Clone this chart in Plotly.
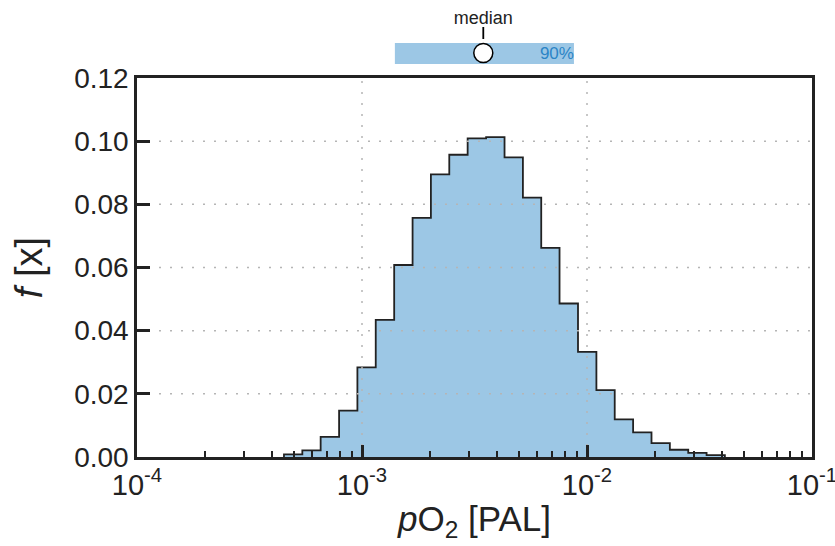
import plotly.graph_objects as go

# ---- data ----
bin_edges = [4.50e-4, 5.43e-4, 6.55e-4, 7.91e-4, 9.54e-4, 1.151e-3, 1.390e-3,
             1.678e-3, 2.024e-3, 2.443e-3, 2.948e-3, 3.562e-3, 4.30e-3,
             5.19e-3, 6.26e-3, 7.55e-3, 9.12e-3, 1.101e-2, 1.328e-2,
             1.603e-2, 1.935e-2, 2.335e-2, 2.818e-2, 3.40e-2, 4.10e-2]
freq = [0.0008, 0.0021, 0.0064, 0.0147, 0.0284, 0.0434, 0.0608, 0.0757,
        0.0895, 0.0957, 0.1009, 0.1013, 0.0949, 0.0821, 0.0662, 0.0486,
        0.0333, 0.0212, 0.0119, 0.0078, 0.0044, 0.0023, 0.0013, 0.0006]
p5, median, p95 = 1.40e-3, 3.46e-3, 8.75e-3
ci_label = "90%"

x_tickvals = [1e-4, 1e-3, 1e-2, 1e-1]
x_ticktext = ["10<sup>-4</sup>", "10<sup>-3</sup>", "10<sup>-2</sup>", "10<sup>-1</sup>"]
y_grid = [0.02, 0.04, 0.06, 0.08, 0.10]
x_grid = [1e-3, 1e-2]

BLUE = "#9cc7e5"
DARK = "#222222"
FONT = "Liberation Sans, Arial, sans-serif"
NARROW = "Liberation Sans Narrow, Arial Narrow, Liberation Sans, sans-serif"

# step outline: start at baseline, rise through each bin, back to baseline
xs = [bin_edges[0]] + bin_edges[:-1] + [bin_edges[-1]]
ys = [0] + freq + [0]

fig = go.Figure()
fig.add_trace(go.Scatter(x=xs, y=ys, mode="lines", line_shape="hv",
                         fill="tozeroy", fillcolor=BLUE,
                         line=dict(color=DARK, width=1.8),
                         hoverinfo="skip", showlegend=False))

# dotted grid drawn above the fill
for g in y_grid:
    fig.add_trace(go.Scatter(x=[1e-4, 1e-1], y=[g, g], mode="lines",
                             line=dict(color="#b5b5b5", width=1.5, dash="2px,9px"),
                             hoverinfo="skip", showlegend=False))
for g in x_grid:
    fig.add_trace(go.Scatter(x=[g, g], y=[0, 0.12], mode="lines",
                             line=dict(color="#b5b5b5", width=1.5, dash="2px,9px"),
                             hoverinfo="skip", showlegend=False))

# ---- top strip: 90% interval and median ----
fig.add_trace(go.Scatter(x=[p5, p95], y=[16.5, 16.5], mode="lines",
                         line=dict(color=BLUE, width=21),
                         xaxis="x2", yaxis="y2", hoverinfo="skip", showlegend=False))
fig.add_trace(go.Scatter(x=[median, median], y=[31, 43], mode="lines",
                         line=dict(color="black", width=1.8),
                         xaxis="x2", yaxis="y2", hoverinfo="skip", showlegend=False))
fig.add_trace(go.Scatter(x=[median], y=[17], mode="markers",
                         marker=dict(size=19, color="white", line=dict(color="black", width=1.5)),
                         xaxis="x2", yaxis="y2", hoverinfo="skip", showlegend=False,
                         cliponaxis=False))
fig.add_trace(go.Scatter(x=[median], y=[50.5], mode="text", text=["median"],
                         textposition="middle center",
                         textfont=dict(family=FONT, size=18, color=DARK),
                         xaxis="x2", yaxis="y2", hoverinfo="skip", showlegend=False,
                         cliponaxis=False))
fig.add_trace(go.Scatter(x=[p95], y=[15.5], mode="text", text=[ci_label],
                         textposition="middle left",
                         textfont=dict(family=FONT, size=17, color="#2b84c6"),
                         xaxis="x2", yaxis="y2", hoverinfo="skip", showlegend=False,
                         cliponaxis=False))

fig.update_layout(
    width=835, height=546,
    margin=dict(l=137, r=23, t=0, b=89, autoexpand=False),
    paper_bgcolor="white", plot_bgcolor="white",
    showlegend=False,
    xaxis=dict(type="log", range=[-4, -1], domain=[0, 1], anchor="y",
               automargin=False, ticklabeloverflow="allow",
               tickmode="array", tickvals=x_tickvals, ticktext=x_ticktext,
               ticks="inside", ticklen=12, tickwidth=2.5, tickcolor=DARK,
               minor=dict(ticks="inside", ticklen=6, tickwidth=2, tickcolor=DARK,
                          dtick="D1", showgrid=False),
               showline=True, mirror=True, linewidth=2.5, linecolor=DARK,
               showgrid=False, zeroline=False,
               tickfont=dict(family=NARROW, size=29, color=DARK),
               title=dict(text="<i>p</i>O<sub>2</sub> [PAL]",
                          font=dict(family=FONT, size=35, color=DARK), standoff=7)),
    yaxis=dict(range=[0, 0.12], domain=[0, 0.8293], anchor="x",
               automargin=False,
               tickmode="linear", tick0=0, dtick=0.02, tickformat=".2f",
               ticks="inside", ticklen=13, tickwidth=2.5, tickcolor=DARK,
               showline=True, mirror=True, linewidth=2.5, linecolor=DARK,
               showgrid=False, zeroline=False,
               tickfont=dict(family=FONT, size=28, color=DARK),
               title=dict(text="<i>f</i> [x]",
                          font=dict(family=FONT, size=38, color=DARK), standoff=20)),
    xaxis2=dict(type="log", matches="x", anchor="y2", visible=False),
    yaxis2=dict(domain=[0.8468, 1], range=[0, 70], anchor="x2", visible=False),
)

fig.write_html("out.html", config={"displayModeBar": False},
               post_script="document.body.style.margin='0';document.body.style.overflow='hidden';")
